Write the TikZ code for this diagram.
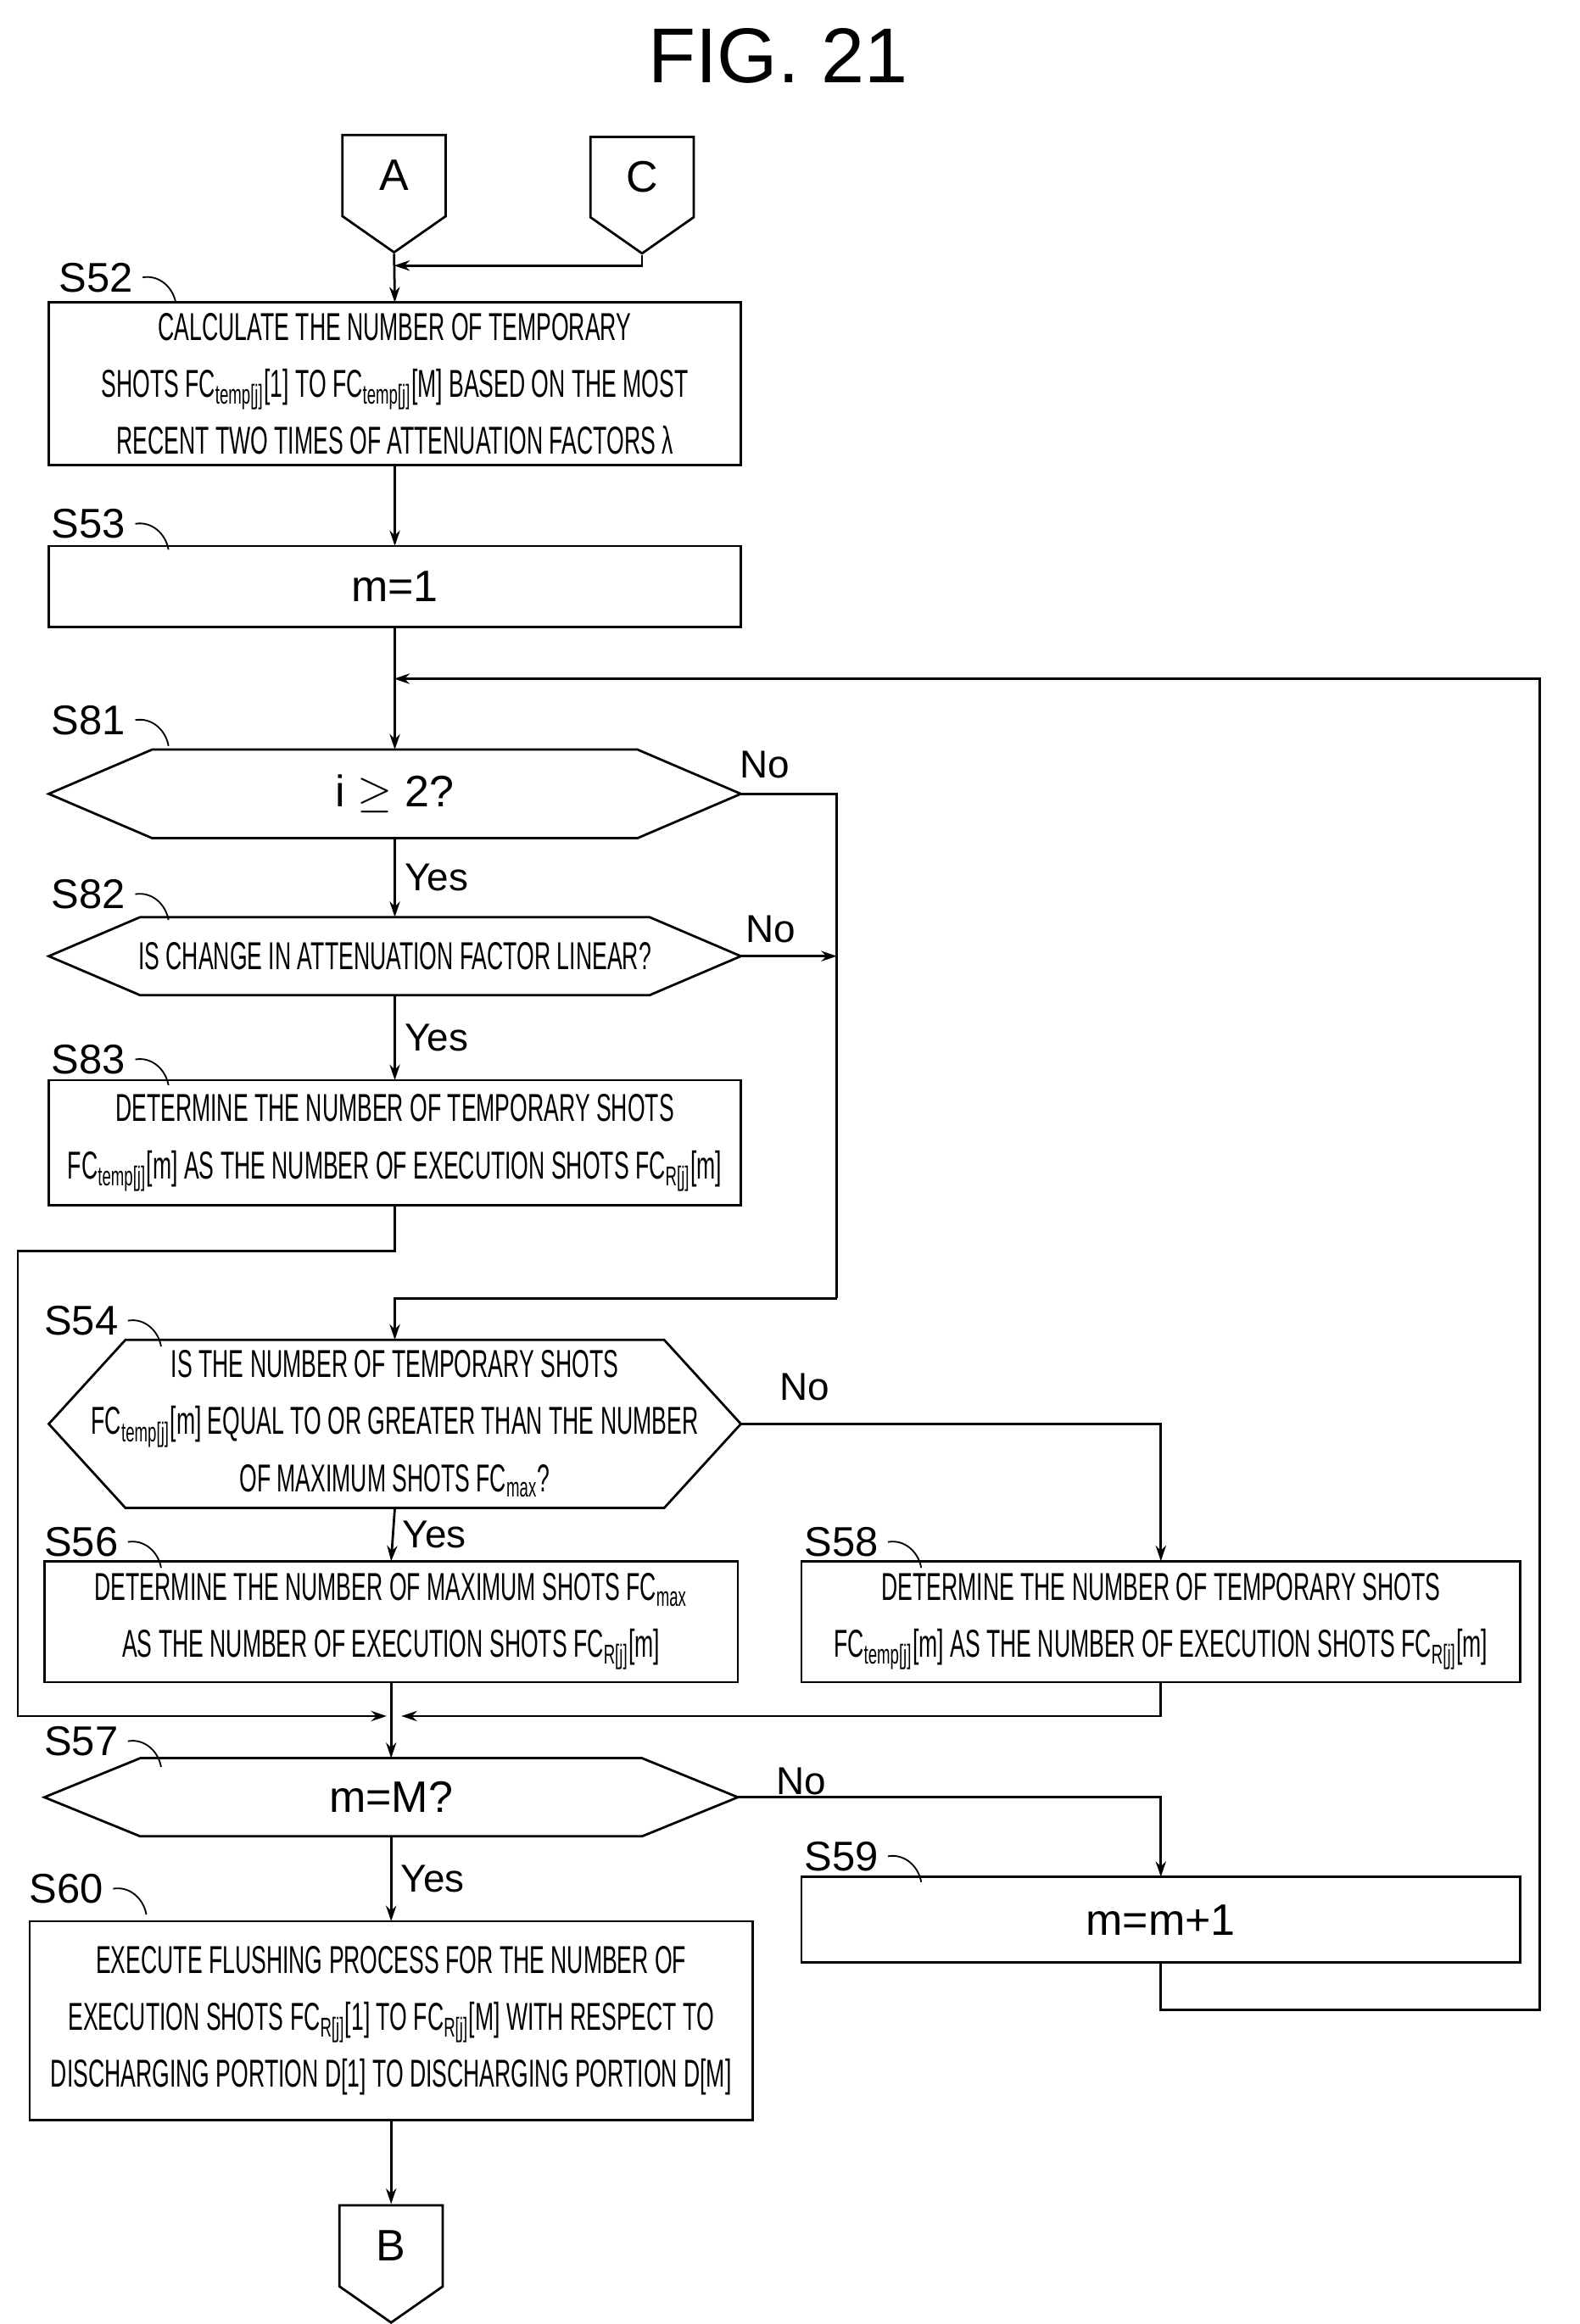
\documentclass[tikz,border=0pt]{standalone}
\usepackage{fontspec}
\setmainfont{Liberation Sans}
\newfontfamily\narrowfont[FakeStretch=0.58]{Liberation Sans}
\usetikzlibrary{shapes.symbols,arrows.meta}
\newcommand{\FCsub}[1]{FC\textsubscript{#1}}
\newcommand{\hexa}[2]{\draw (#1.west) -- ([xshift=#2]#1.north west) -- ([xshift=-#2]#1.north east)
  -- (#1.east) -- ([xshift=-#2]#1.south east) -- ([xshift=#2]#1.south west) -- cycle;}

\begin{document}
\begin{tikzpicture}[x=0.02cm,y=-0.02cm,line width=0.9pt,>={Stealth[length=6pt,width=4pt]},
  box/.style={draw,rectangle,inner sep=0pt,outer sep=0pt,align=center,
    font=\narrowfont\fontsize{15}{22}\selectfont},
  decide/.style={rectangle,inner sep=0pt,outer sep=0pt,
    align=center,font=\narrowfont\fontsize{15}{22}\selectfont},
  link/.style={draw,signal,signal to=south,signal pointer angle=110,inner sep=0pt,
    minimum width=1.4cm,minimum height=1.24cm,font=\fontsize{17}{20}\selectfont},
  steplabel/.style={font=\fontsize{16}{18}\selectfont},
  answer/.style={font=\fontsize{15}{18}\selectfont},
  plain/.style={font=\fontsize{17}{20}\selectfont}]
  \useasboundingbox (0,0) rectangle (1070,1575);
  \node[font=\fontsize{30}{34}\selectfont] (title) at (527,38) {FIG. 21};

  % connectors
  \node[link] (A) at (267,119) {A};
  \node[link] (C) at (435,120) {C};
  \node[link] (B) at (265,1522) {B};

  % steps
  \node[box,minimum width=9.38cm,minimum height=2.2cm] (S52) at (267.5,260)
    {CALCULATE THE NUMBER OF TEMPORARY\\SHOTS \FCsub{temp[j]}[1] TO \FCsub{temp[j]}[M] BASED ON THE MOST\\RECENT TWO TIMES OF ATTENUATION FACTORS λ};
  \node[box,plain,minimum width=9.38cm,minimum height=1.1cm] (S53) at (267.5,397.5) {m=1};
  \node[decide,plain,minimum width=9.38cm,minimum height=1.2cm] (S81) at (267.5,538) {i $\geq$ 2?};
  \hexa{S81}{1.4cm}
  \node[decide,minimum width=9.38cm,minimum height=1.06cm] (S82) at (267.5,648)
    {IS CHANGE IN ATTENUATION FACTOR LINEAR?};
  \hexa{S82}{1.24cm}
  \node[box,minimum width=9.38cm,minimum height=1.7cm] (S83) at (267.5,774.5)
    {DETERMINE THE NUMBER OF TEMPORARY SHOTS\\\FCsub{temp[j]}[m] AS THE NUMBER OF EXECUTION SHOTS \FCsub{R[j]}[m]};
  \node[decide,minimum width=9.38cm,minimum height=2.28cm] (S54) at (267.5,965)
    {IS THE NUMBER OF TEMPORARY SHOTS\\\FCsub{temp[j]}[m] EQUAL TO OR GREATER THAN THE NUMBER\\OF MAXIMUM SHOTS \FCsub{max}?};
  \hexa{S54}{1.04cm}
  \node[box,minimum width=9.4cm,minimum height=1.64cm] (S56) at (265,1099)
    {DETERMINE THE NUMBER OF MAXIMUM SHOTS \FCsub{max}\\AS THE NUMBER OF EXECUTION SHOTS \FCsub{R[j]}[m]};
  \node[box,minimum width=9.74cm,minimum height=1.64cm] (S58) at (786.5,1099)
    {DETERMINE THE NUMBER OF TEMPORARY SHOTS\\\FCsub{temp[j]}[m] AS THE NUMBER OF EXECUTION SHOTS \FCsub{R[j]}[m]};
  \node[decide,plain,minimum width=9.4cm,minimum height=1.06cm] (S57) at (265,1218) {m=M?};
  \hexa{S57}{1.3cm}
  \node[box,plain,minimum width=9.74cm,minimum height=1.16cm] (S59) at (786.5,1301) {m=m+1};
  \node[box,minimum width=9.8cm,minimum height=2.7cm] (S60) at (265,1369.5)
    {EXECUTE FLUSHING PROCESS FOR THE NUMBER OF\\EXECUTION SHOTS \FCsub{R[j]}[1] TO \FCsub{R[j]}[M] WITH RESPECT TO\\DISCHARGING PORTION D[1] TO DISCHARGING PORTION D[M]};

  % step labels
  \foreach \s/\x/\y in {S52/65/188,S53/60/355,S81/60/488,S82/60/606,S83/60/718,
      S54/55/895,S56/55/1045,S58/570/1045,S57/55/1180,S59/570/1258,S60/45/1280}{
    \node[steplabel] (l\s) at (\x,\y) {\s};
    \draw[line width=0.6pt] (l\s.east) to[out=10,in=100] ++(0.45cm,-0.35cm);
  }

  % junctions
  \coordinate (jC) at (267,180);
  \coordinate (jLoop) at (267,460);
  \coordinate (cLoop) at (1043,1362);
  \coordinate (cNo) at (567,880);
  \coordinate (c83) at (12,848);
  \coordinate (jL) at (262,1163);
  \coordinate (jR) at (272,1163);

  % flow
  \draw[->] (A.south) -- (S52.north);
  \draw[->] (C.south) |- (jC);
  \draw[->] (S52.south) -- (S53.north);
  \draw[->] (S53.south) -- (S81.north);
  \draw[->] (S81.south) -- node[answer,right] {Yes} (S82.north);
  \draw (S81.east) -| (cNo);
  \draw[->] (S82.east) -- (S82.east -| cNo);
  \draw[->] (S82.south) -- node[answer,right] {Yes} (S83.north);
  \draw[->] (cNo) -| (S54.north);
  \draw[->] (S83.south) |- (c83) |- (jL);
  \draw[->] (S54.south) -- node[answer,right] {Yes} (S56.north);
  \draw[->] (S54.east) -| (S58.north);
  \draw[->] (S56.south) -- (S57.north);
  \draw[->] (S58.south) |- (jR);
  \draw[->] (S57.south) -- node[answer,right] {Yes} (S60.north);
  \draw[->] (S57.east) -| (S59.north);
  \draw[->] (S59.south) |- (cLoop) |- (jLoop);
  \draw[->] (S60.south) -- (B.north);

  % No labels
  \node[answer] (no81) at (518,518) {No};
  \node[answer] (no82) at (522,630) {No};
  \node[answer] (no54) at (545,940) {No};
  \node[answer] (no57) at (543,1207) {No};
\end{tikzpicture}
\end{document}
